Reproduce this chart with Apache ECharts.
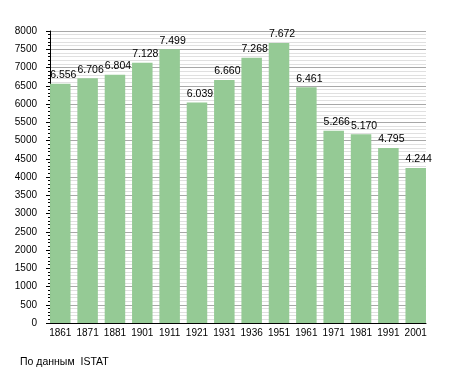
<!DOCTYPE html>
<html><head><meta charset="utf-8">
<script src="https://cdn.jsdelivr.net/npm/echarts@6/dist/echarts.min.js"></script>
<style>html,body{margin:0;padding:0;background:#fff}#c{width:455px;height:373px}</style>
</head><body><div id="c"></div>
<script>
const categories = ['1861','1871','1881','1901','1911','1921','1931','1936','1951','1961','1971','1981','1991','2001'];
const population = [6556, 6706, 6804, 7128, 7499, 6039, 6660, 7268, 7672, 6461, 5266, 5170, 4795, 4244];
const yTicks = [0,500,1000,1500,2000,2500,3000,3500,4000,4500,5000,5500,6000,6500,7000,7500,8000];
const sourceNote = 'По данным  ISTAT';

const fmt = v => String(v).replace(/\B(?=(\d{3})+(?!\d))/g, '.');
const font = 'Liberation Sans, Arial, sans-serif';
const chart = echarts.init(document.getElementById('c'), null, {renderer:'canvas'});
chart.setOption({
  animation: false,
  backgroundColor: '#fff',
  grid: [
    {left: 50, right: 29, top: 31, bottom: 50},
    {left: 46.6, right: 25.6, top: 31, bottom: 50}
  ],
  graphic: [{type:'text', left: 20, top: 357, style:{text: sourceNote, font: '10.5px ' + font, fill:'#000'}}],
  xAxis: [
    {type:'category', gridIndex:0, data: categories, axisLine:{show:true, lineStyle:{color:'#000', width:1}},
     axisTick:{show:false}, axisLabel:{show:false}, splitLine:{show:false}},
    {type:'category', gridIndex:1, data: categories, axisLine:{show:false}, axisTick:{show:false},
     axisLabel:{show:true, color:'#000', fontSize:10, fontFamily:font, margin:5, interval:0}}
  ],
  yAxis: [
    {type:'value', gridIndex:0, min: yTicks[0], max: yTicks[yTicks.length-1], interval: 500,
     axisLine:{show:true, lineStyle:{color:'#000', width:1}},
     axisTick:{show:true, length:4, lineStyle:{color:'#000'}},
     minorTick:{show:true, splitNumber:5, length:2, lineStyle:{color:'#000'}},
     axisLabel:{color:'#000', fontSize:10, fontFamily:font, margin:13, formatter: v => String(v)},
     splitLine:{show:true, lineStyle:{color:'#a8a8a8', width:1}},
     minorSplitLine:{show:true, lineStyle:{color:'#e0e0e0', width:1}}},
    {type:'value', gridIndex:1, min:0, max:8000, show:false, splitLine:{show:false}}
  ],
  series: [{
    type:'bar', xAxisIndex:1, yAxisIndex:1, data: population, barCategoryGap:'25%',
    itemStyle:{color:'#95ca95'},
    label:{show:true, position:'top', distance:3, offset:[3,0], color:'#000', fontSize:10.5, fontFamily:font,
      formatter: p => fmt(p.value)}
  }]
});
</script></body></html>
